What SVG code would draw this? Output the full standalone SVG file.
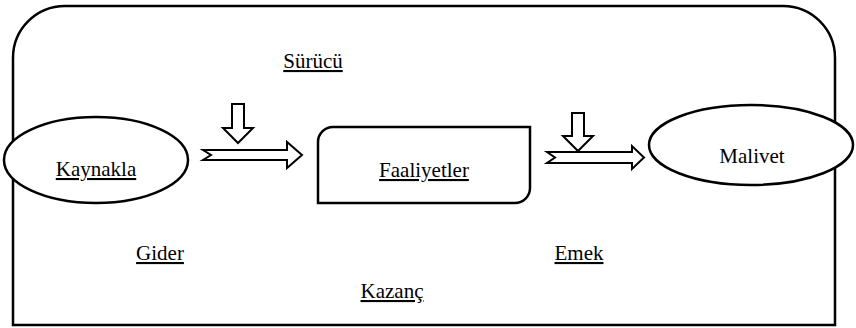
<svg xmlns="http://www.w3.org/2000/svg" width="856" height="328" viewBox="0 0 856 328">
<style>
.ln{fill:none;stroke:#000;stroke-width:2.5}
.shape{fill:#fff;stroke:#000;stroke-width:2.5}
.arr{fill:#fff;stroke:#000;stroke-width:2;stroke-linejoin:miter}
.t{font-family:"Liberation Serif","Times New Roman",serif;font-size:21px;fill:#000;text-anchor:middle}
.u{text-decoration:underline}
</style>
<rect width="856" height="328" fill="#fff"/>
<g id="frame">
<path class="ln" d="M13,325 L13,58 A52,52 0 0 1 65,6 L783,6 A52,52 0 0 1 835,58 L835,325 Z"/>
</g>
<g id="labels">
<text class="t u" x="313" y="68">Sürücü</text>
<text class="t u" x="160" y="260">Gider</text>
<text class="t u" x="579" y="260">Emek</text>
<text class="t u" x="392" y="298">Kazanç</text>
</g>
<g id="connectors">
<path class="arr" d="M203,150 L287,150 L287,142 L302,155 L287,168 L287,160 L203,160 L211,155 Z"/>
<path class="arr" d="M232,104 L244,104 L244,128 L253,128 L238,143 L223,128 L232,128 Z"/>
<path class="arr" d="M547,152 L632,152 L632,146 L644,157.5 L632,169 L632,163 L547,163 L555,157.5 Z"/>
<path class="arr" d="M572,113 L584,113 L584,136 L593,136 L578,151 L563,136 L572,136 Z"/>
</g>
<g id="kaynakla">
<ellipse class="shape" cx="96" cy="160" rx="92" ry="43"/>
<text class="t u" x="96" y="176">Kaynakla</text>
</g>
<g id="faaliyetler">
<path class="shape" d="M333,127 L530,127 L530,188 A15,15 0 0 1 515,203 L318,203 L318,142 A15,15 0 0 1 333,127 Z"/>
<text class="t u" x="424" y="177">Faaliyetler</text>
</g>
<g id="malivet">
<ellipse class="shape" cx="751" cy="145" rx="102" ry="40"/>
<text class="t" x="752" y="163">Malivet</text>
</g>
</svg>
